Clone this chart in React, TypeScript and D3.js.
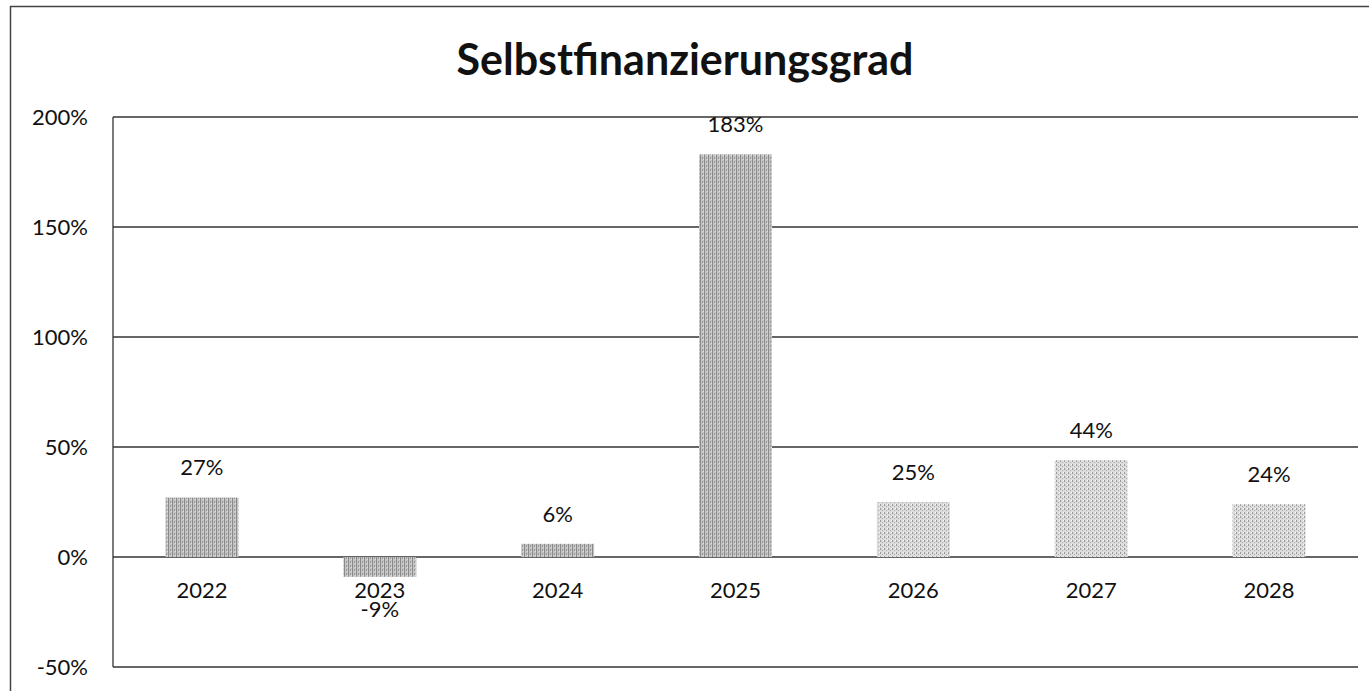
import React from "react";
import * as d3 from "d3";

const years = ["2022", "2023", "2024", "2025", "2026", "2027", "2028"];
const ratios = [0.27, -0.09, 0.06, 1.83, 0.25, 0.44, 0.24];
const ticks = [-0.5, 0, 0.5, 1, 1.5, 2];

const W = 1369;
const H = 691;
const FONT = "Lato, 'Open Sans', sans-serif";

const App = () => {
  const x = d3.scaleBand<string>().domain(years).range([113, 1358]).paddingInner(0.59).paddingOuter(0.295);
  const y = d3.scaleLinear().domain([-0.5, 2]).range([667, 117]);
  // Excel style: plain hyphen for negatives
  const pct = (v: number) => d3.format(".0%")(v).replace("\u2212", "-");

  return (
    <div style={{ position: "fixed", left: 0, top: 0, background: "#fff" }}>
      <svg width={W} height={H} style={{ display: "block" }}>
        <defs>
          <pattern id="dark" width="4" height="4" patternUnits="userSpaceOnUse">
            <rect width="4" height="4" fill="#c4c4c4" />
            <rect x="0" y="0" width="1" height="4" fill="#8a8a8a" />
            <rect x="2" y="1" width="1" height="2" fill="#9a9a9a" />
            <rect x="3" y="3" width="1" height="1" fill="#e0e0e0" />
          </pattern>
          <pattern id="light" width="4" height="4" patternUnits="userSpaceOnUse">
            <rect width="4" height="4" fill="#dcdcdc" />
            <rect x="0" y="0" width="1" height="2" fill="#9a9a9a" />
            <rect x="2" y="2" width="1" height="1" fill="#a8a8a8" />
            <rect x="3" y="0" width="1" height="1" fill="#f2f2f2" />
          </pattern>
        </defs>
        <rect width={W} height={H} fill="#fff" />
        {/* outer chart frame */}
        <path d={`M10.5,${H} V6.5 H${W}`} fill="none" stroke="#444" strokeWidth={1.5} />
        <text x={685} y={75} textAnchor="middle" fontFamily={FONT} fontWeight={700} fontSize={43} fill="#111">
          Selbstfinanzierungsgrad
        </text>
        {ticks.map(t => (
          <g key={t}>
            <line x1={113} x2={1358} y1={y(t)} y2={y(t)} stroke="#333" strokeWidth={1.3} />
            <text x={88} y={y(t)} dy="0.35em" textAnchor="end" fontFamily={FONT} fontSize={22} fill="#111">
              {pct(t)}
            </text>
          </g>
        ))}
        <line x1={113} x2={113} y1={y(2)} y2={y(-0.5)} stroke="#333" strokeWidth={1.3} />
        {ratios.map((v, i) => {
          const bx = x(years[i])!;
          const top = Math.min(y(v), y(0));
          const h = Math.abs(y(v) - y(0));
          return (
            <rect key={years[i]} x={bx} y={top} width={x.bandwidth()} height={h}
              fill={`url(#${i < 4 ? "dark" : "light"})`} />
          );
        })}
        {years.map(yr => (
          <text key={yr} x={x(yr)! + x.bandwidth() / 2} y={y(0) + 33} dy="0.35em" textAnchor="middle"
            fontFamily={FONT} fontSize={22} fill="#111">
            {yr}
          </text>
        ))}
        {ratios.map((v, i) => (
          <text key={"l" + i} x={x(years[i])! + x.bandwidth() / 2} y={v >= 0 ? y(v) - 30 : y(v) + 32}
            dy="0.35em" textAnchor="middle" fontFamily={FONT} fontSize={22} fill="#111">
            {pct(v)}
          </text>
        ))}
      </svg>
    </div>
  );
};

export default App;
